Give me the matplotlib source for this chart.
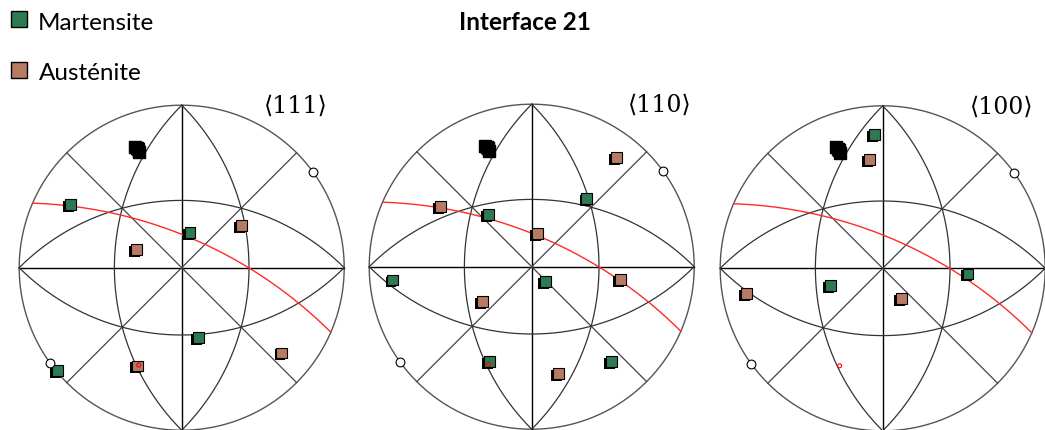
import numpy as np
import matplotlib
matplotlib.use('Agg')
import matplotlib.pyplot as plt
import matplotlib.patheffects as pe
from matplotlib.patches import Rectangle

# pole figure titles
panel_labels = ['\u27e8111\u27e9', '\u27e8110\u27e9', '\u27e8100\u27e9']

# projected poles (unit circle coords)
mart_111_x = [-0.683, 0.051, 0.105, -0.765]
mart_111_y = [0.391, 0.218, -0.430, -0.631]
aust_111_x = [-0.278, 0.370, -0.272, 0.617]
aust_111_y = [0.114, 0.259, -0.605, -0.525]

mart_110_x = [0.340, -0.267, -0.854, 0.086, -0.261, 0.490]
mart_110_y = [0.420, 0.319, -0.082, -0.093, -0.586, -0.582]
aust_110_x = [0.519, -0.560, 0.035, 0.545, -0.305, 0.165]
aust_110_y = [0.673, 0.370, 0.206, -0.078, -0.216, -0.658]

mart_100_x = [-0.053, 0.525, -0.319]
mart_100_y = [0.823, -0.035, -0.107]
aust_100_x = [-0.082, -0.840, 0.113]
aust_100_y = [0.669, -0.154, -0.185]

# black cluster near the top (same in each figure)
black_x = [-0.285, -0.272, -0.262, -0.278]
black_y = [0.745, 0.728, 0.712, 0.735]

# reference direction (small red circle)
ref_x = [-0.265]
ref_y = [-0.600]

# hollow markers on the rim, azimuth in degrees
rim_azimuth = [36.0, 216.0]

# interface trace: strike azimuth of the great circle and tilt of its top point
trace_strike = -23.4
trace_tilt = 21.5

green = '#2e7a52'
brown = '#b97a64'

# circle centres in pixels and radius
centres = [(181.7, 267.7), (531.7, 266.7), (882.7, 268.3)]
label_pos = [(0.70, 0.99), (0.79, 0.99), (0.73, 0.99)]
R = 162.5
W, H = 1045, 430
lim = 1.05

fig = plt.figure(figsize=(W / 100, H / 100), dpi=100)

shadow = [pe.SimplePatchShadow(offset=(-1.4, -1.4), shadow_rgbFace='black', alpha=1.0), pe.Normal()]


def trace_curve():
    e = np.array([np.cos(np.radians(trace_strike)), np.sin(np.radians(trace_strike)), 0.0])
    az = np.radians(trace_strike + 90)
    th = np.radians(trace_tilt)
    d = np.array([np.sin(th) * np.cos(az), np.sin(th) * np.sin(az), np.cos(th)])
    s = np.linspace(0, np.pi, 300)
    p = np.outer(np.cos(s), e) + np.outer(np.sin(s), d)
    return p[:, 0] / (1 + p[:, 2]), p[:, 1] / (1 + p[:, 2])


def draw_net(ax):
    t = np.linspace(0, 2 * np.pi, 400)
    ax.plot(np.cos(t), np.sin(t), color='#555555', lw=1.0)
    ax.plot([-1, 1], [0, 0], color='black', lw=1.0)
    ax.plot([0, 0], [-1, 1], color='black', lw=1.0)
    c = np.sqrt(0.5)
    ax.plot([-c, c], [-c, c], color='#444444', lw=0.9)
    ax.plot([-c, c], [c, -c], color='#444444', lw=0.9)
    # great circles through the rim poles (centre at distance 1, radius sqrt 2)
    a = np.linspace(-np.pi / 4, np.pi / 4, 200)
    r2 = np.sqrt(2)
    for sx in (-1, 1):
        ax.plot(-sx + sx * r2 * np.cos(a), r2 * np.sin(a), color='#333333', lw=0.9)
        ax.plot(r2 * np.sin(a), -sx + sx * r2 * np.cos(a), color='#333333', lw=0.9)


panels = [
    (mart_111_x, mart_111_y, aust_111_x, aust_111_y),
    (mart_110_x, mart_110_y, aust_110_x, aust_110_y),
    (mart_100_x, mart_100_y, aust_100_x, aust_100_y),
]

tx, ty = trace_curve()

for i, (mx, my, bx, by) in enumerate(panels):
    cx, cy = centres[i]
    half = lim * R
    ax = fig.add_axes([(cx - half) / W, (H - cy - half) / H, 2 * half / W, 2 * half / H])
    ax.set_xlim(-lim, lim)
    ax.set_ylim(-lim, lim)
    ax.axis('off')
    draw_net(ax)
    ax.plot(tx, ty, color='#ff2a2a', lw=1.0, zorder=3)
    ax.scatter(black_x, black_y, marker='s', s=64, color='black', zorder=4)
    ax.scatter(mx, my, marker='s', s=62, color=green, edgecolors='black', linewidths=0.8,
               zorder=5, path_effects=shadow)
    ax.scatter(bx, by, marker='s', s=62, color=brown, edgecolors='black', linewidths=0.8,
               zorder=5, path_effects=shadow)
    ax.scatter(ref_x, ref_y, marker='o', s=8, facecolors='none', edgecolors='red', linewidths=0.8, zorder=6)
    az = np.radians(rim_azimuth)
    ax.scatter(np.cos(az), np.sin(az), marker='o', s=40, facecolors='white', edgecolors='black',
               linewidths=0.8, zorder=6)
    lx, ly = label_pos[i]
    ax.text(lx, ly, panel_labels[i], ha='center', va='center', fontsize=17,
            family=['DejaVu Serif', 'DejaVu Sans'], clip_on=False)

# legend and title
fig.add_artist(Rectangle((11 / W, 1 - 27 / H), 16 / W, 16 / H, transform=fig.transFigure,
                         facecolor=green, edgecolor='black', lw=1.0))
fig.add_artist(Rectangle((11 / W, 1 - 78 / H), 16 / W, 16 / H, transform=fig.transFigure,
                         facecolor=brown, edgecolor='black', lw=1.0))
fig.text(38 / W, 1 - 23 / H, 'Martensite', fontsize=17.5, family='Lato', va='center')
fig.text(39 / W, 1 - 74 / H, 'Austénite', fontsize=17.5, family='Lato', va='center')
fig.text(525 / W, 1 - 23 / H, 'Interface 21', fontsize=17.5, family='Lato', weight='bold',
         ha='center', va='center')

fig.savefig('out.png', dpi=100)
